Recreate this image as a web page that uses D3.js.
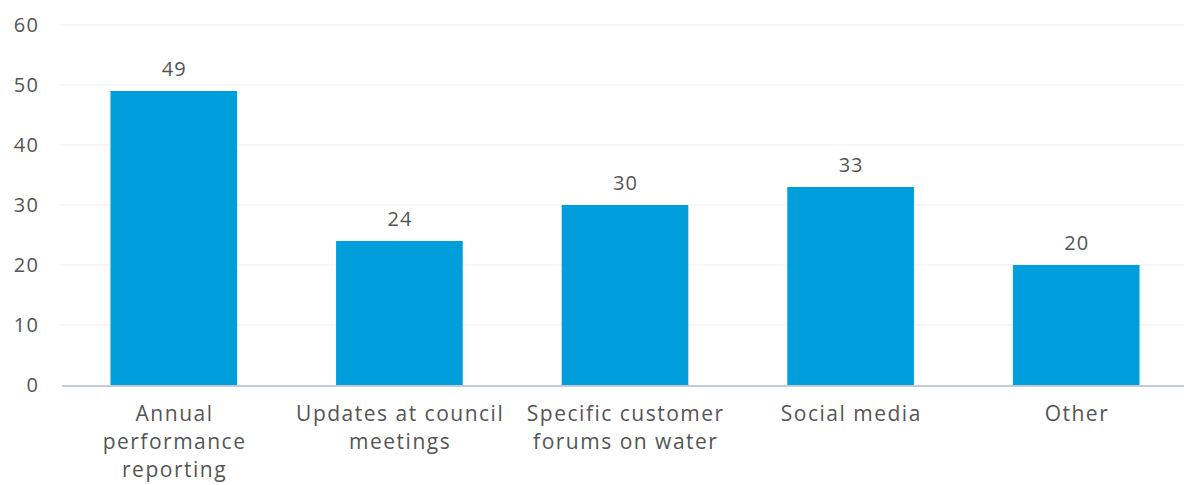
<!DOCTYPE html>
<html>
<head>
<meta charset="utf-8">
<script src="https://cdn.jsdelivr.net/npm/d3@7"></script>
<style>
  html, body { margin: 0; padding: 0; background: #ffffff; }
  svg { display: block; }
  text { font-family: "Open Sans", Lato, sans-serif; fill: #555555; }
</style>
</head>
<body>
<svg id="chart" width="1184" height="485"></svg>
<script>
// Channels used, with counts per channel
const categories = [
  ["Annual", "performance", "reporting"],
  ["Updates at council", "meetings"],
  ["Specific customer", "forums on water"],
  ["Social media"],
  ["Other"]
];
const values = [49, 24, 30, 33, 20];
const yTicks = [0, 10, 20, 30, 40, 50, 60];

const W = 1184, H = 485;
const FONT = "'Open Sans', Lato, sans-serif";
const svg = d3.select("#chart");

const keys = categories.map((c, i) => i);
const x = d3.scaleBand()
  .domain(keys)
  .range([61, 1189])
  .paddingInner(0.4386)
  .paddingOuter(0.2193);

const y = d3.scaleLinear().domain([0, 60]).range([385, 25]);

// Horizontal gridlines
svg.append("g")
  .selectAll("line")
  .data(yTicks.filter(t => t > 0))
  .join("line")
  .attr("x1", 60).attr("x2", W)
  .attr("y1", d => y(d)).attr("y2", d => y(d))
  .attr("stroke", "#efefef").attr("stroke-width", 1);

// Y axis tick labels
const yAxis = d3.axisLeft(y).tickValues(yTicks).tickSize(0).tickPadding(0);
const gy = svg.append("g").attr("transform", "translate(39.5,0)").call(yAxis);
gy.select(".domain").remove();
gy.selectAll("text")
  .attr("font-size", 20)
  .attr("fill", "#555555")
  .attr("letter-spacing", 1.5)
  .style("font-family", FONT);

// Bars
svg.append("g")
  .selectAll("rect")
  .data(values)
  .join("rect")
  .attr("x", (d, i) => x(i))
  .attr("width", x.bandwidth())
  .attr("y", d => y(d))
  .attr("height", d => y(0) - y(d))
  .attr("fill", "#009fdb");

// Value labels
svg.append("g")
  .selectAll("text")
  .data(values)
  .join("text")
  .attr("x", (d, i) => x(i) + x.bandwidth() / 2 + 0.5)
  .attr("y", d => y(d) - 15)
  .attr("text-anchor", "middle")
  .attr("font-size", 20)
  .attr("letter-spacing", 1)
  .text(d => d);

// Baseline axis
svg.append("line")
  .attr("x1", 62).attr("x2", W)
  .attr("y1", y(0) + 1).attr("y2", y(0) + 1)
  .attr("stroke", "#c3cad8").attr("stroke-width", 2);

// Category labels
const cat = svg.append("g")
  .selectAll("text")
  .data(categories)
  .join("text")
  .attr("x", (d, i) => x(i) + x.bandwidth() / 2 + 0.75)
  .attr("y", 421)
  .attr("text-anchor", "middle")
  .attr("font-size", 21)
  .attr("letter-spacing", 1.5);
cat.selectAll("tspan")
  .data(d => d)
  .join("tspan")
  .attr("x", function () { return d3.select(this.parentNode).attr("x"); })
  .attr("dy", (d, i) => i === 0 ? 0 : 28)
  .text(d => d);
</script>
</body>
</html>
